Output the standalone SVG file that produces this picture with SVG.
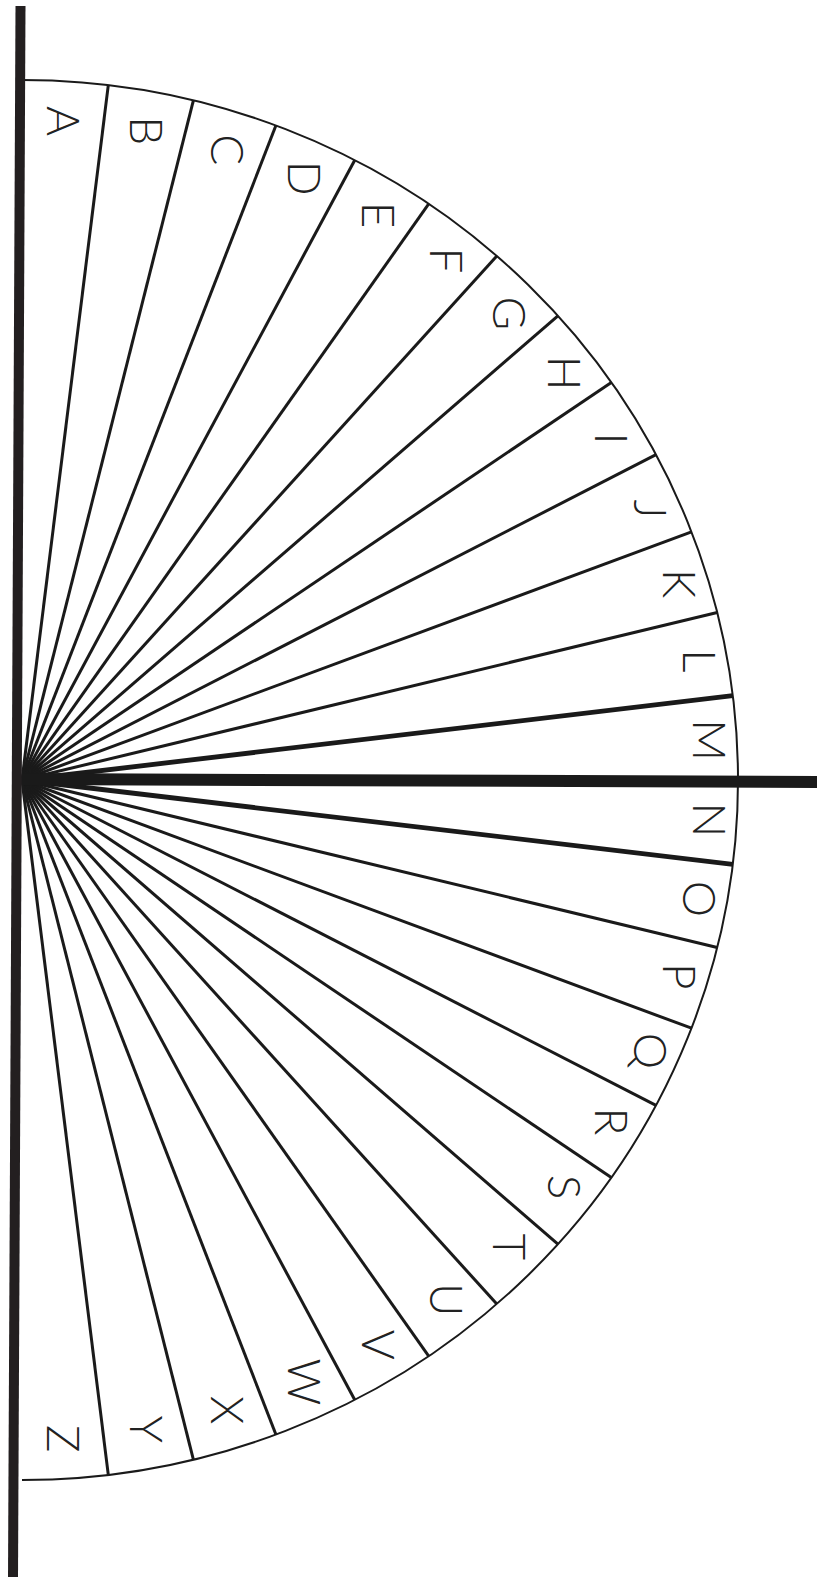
<svg xmlns="http://www.w3.org/2000/svg" width="817" height="1577" viewBox="0 0 817 1577">
<style>
.sp{stroke:#1a1a1a;stroke-width:3;fill:none}
.spb{stroke:#1a1a1a;stroke-width:4.8;fill:none}
.arc{stroke:#1a1a1a;stroke-width:2;fill:none}
.lt{font-family:Lato,"Open Sans","Liberation Sans",sans-serif;font-weight:300;font-size:46px;fill:#222;text-anchor:middle}
</style>
<rect width="817" height="1577" fill="#fff"/>
<g id="connectors">
<path class="arc" d="M22,80 A716,700 0 0 1 22,1480"/>
<line class="sp" x1="22" y1="780" x2="108.3" y2="85.1"/>
<line class="sp" x1="22" y1="780" x2="193.4" y2="100.3"/>
<line class="sp" x1="22" y1="780" x2="275.9" y2="125.5"/>
<line class="sp" x1="22" y1="780" x2="354.7" y2="160.2"/>
<line class="sp" x1="22" y1="780" x2="428.7" y2="203.9"/>
<line class="sp" x1="22" y1="780" x2="496.8" y2="256.0"/>
<line class="sp" x1="22" y1="780" x2="557.9" y2="315.8"/>
<line class="sp" x1="22" y1="780" x2="611.3" y2="382.4"/>
<line class="sp" x1="22" y1="780" x2="656.0" y2="454.7"/>
<line class="sp" x1="22" y1="780" x2="691.5" y2="531.8"/>
<line class="sp" x1="22" y1="780" x2="717.2" y2="612.5"/>
<line class="spb" x1="22" y1="780" x2="732.8" y2="695.6"/>
<line class="spb" x1="22" y1="780" x2="732.8" y2="864.4"/>
<line class="sp" x1="22" y1="780" x2="717.2" y2="947.5"/>
<line class="sp" x1="22" y1="780" x2="691.5" y2="1028.2"/>
<line class="sp" x1="22" y1="780" x2="656.0" y2="1105.3"/>
<line class="sp" x1="22" y1="780" x2="611.3" y2="1177.6"/>
<line class="sp" x1="22" y1="780" x2="557.9" y2="1244.2"/>
<line class="sp" x1="22" y1="780" x2="496.8" y2="1304.0"/>
<line class="sp" x1="22" y1="780" x2="428.7" y2="1356.1"/>
<line class="sp" x1="22" y1="780" x2="354.7" y2="1399.8"/>
<line class="sp" x1="22" y1="780" x2="275.9" y2="1434.5"/>
<line class="sp" x1="22" y1="780" x2="193.4" y2="1459.7"/>
<line class="sp" x1="22" y1="780" x2="108.3" y2="1474.9"/>
<line x1="22" y1="779" x2="817" y2="782" stroke="#1a1a1a" stroke-width="12"/>
<line x1="20.5" y1="6" x2="13" y2="1577" stroke="#231f20" stroke-width="10"/>
</g>
<g id="A" transform="translate(63.6,121.2) rotate(90)"><text class="lt" y="16.5">A</text></g>
<g id="B" transform="translate(146.2,130.8) rotate(90)"><text class="lt" y="16.5">B</text></g>
<g id="C" transform="translate(227.0,149.9) rotate(90)"><text class="lt" y="16.5">C</text></g>
<g id="D" transform="translate(304.8,178.2) rotate(90)"><text class="lt" y="16.5">D</text></g>
<g id="E" transform="translate(378.4,215.2) rotate(90)"><text class="lt" y="16.5">E</text></g>
<g id="F" transform="translate(446.9,260.4) rotate(90)"><text class="lt" y="16.5">F</text></g>
<g id="G" transform="translate(509.2,313.3) rotate(90)"><text class="lt" y="16.5">G</text></g>
<g id="H" transform="translate(564.4,373.0) rotate(90)"><text class="lt" y="16.5">H</text></g>
<g id="I" transform="translate(611.7,438.6) rotate(90)"><text class="lt" y="16.5">I</text></g>
<g id="J" transform="translate(650.3,509.1) rotate(90)"><text class="lt" y="16.5">J</text></g>
<g id="K" transform="translate(679.8,583.6) rotate(90)"><text class="lt" y="16.5">K</text></g>
<g id="L" transform="translate(699.7,661.0) rotate(90)"><text class="lt" y="16.5">L</text></g>
<g id="M" transform="translate(709.7,740.1) rotate(90)"><text class="lt" y="16.5">M</text></g>
<g id="N" transform="translate(709.7,819.9) rotate(90)"><text class="lt" y="16.5">N</text></g>
<g id="O" transform="translate(699.7,899.0) rotate(90)"><text class="lt" y="16.5">O</text></g>
<g id="P" transform="translate(679.8,976.4) rotate(90)"><text class="lt" y="16.5">P</text></g>
<g id="Q" transform="translate(650.3,1050.9) rotate(90)"><text class="lt" y="16.5">Q</text></g>
<g id="R" transform="translate(611.7,1121.4) rotate(90)"><text class="lt" y="16.5">R</text></g>
<g id="S" transform="translate(564.4,1187.0) rotate(90)"><text class="lt" y="16.5">S</text></g>
<g id="T" transform="translate(509.2,1246.7) rotate(90)"><text class="lt" y="16.5">T</text></g>
<g id="U" transform="translate(446.9,1299.6) rotate(90)"><text class="lt" y="16.5">U</text></g>
<g id="V" transform="translate(378.4,1344.8) rotate(90)"><text class="lt" y="16.5">V</text></g>
<g id="W" transform="translate(304.8,1381.8) rotate(90)"><text class="lt" y="16.5">W</text></g>
<g id="X" transform="translate(227.0,1410.1) rotate(90)"><text class="lt" y="16.5">X</text></g>
<g id="Y" transform="translate(146.2,1429.2) rotate(90)"><text class="lt" y="16.5">Y</text></g>
<g id="Z" transform="translate(63.6,1438.8) rotate(90)"><text class="lt" y="16.5">Z</text></g>
</svg>
